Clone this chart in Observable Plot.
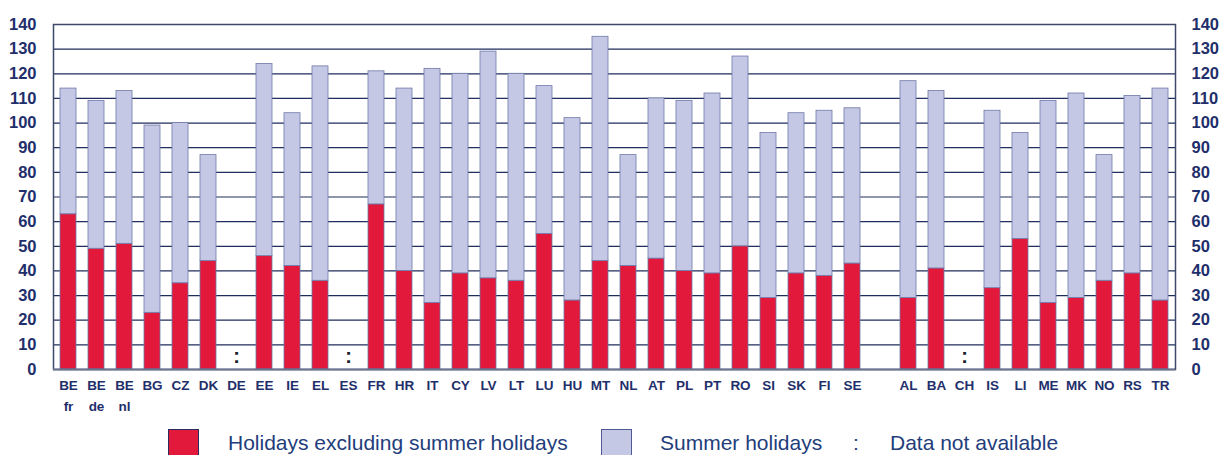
<!DOCTYPE html>
<html>
<head>
<meta charset="utf-8">
<script src="https://cdn.jsdelivr.net/npm/d3@7"></script>
<script src="https://cdn.jsdelivr.net/npm/@observablehq/plot@0.6"></script>
<style>
  html, body { margin: 0; padding: 0; background: #fff; }
  body { position: relative; width: 1219px; height: 455px; overflow: hidden; font-family: "Liberation Sans", Arial, sans-serif; }
  #chart { position: absolute; left: 0; top: 0; }
  .mark { position: absolute; left: 13px; top: 0; width: 3px; height: 8px; background: #c0102e; }
  .sw { position: absolute; top: 429px; width: 31px; height: 26px; box-sizing: border-box; }
  .lt { position: absolute; top: 432px; font-size: 21px; line-height: 21px; color: #233d7b; white-space: nowrap; }
</style>
</head>
<body>
<div class="mark"></div>
<div id="chart"></div>
<div class="sw" style="left:168px;background:#e3193b;border:1px solid #2b2d5e;border-bottom:none;"></div>
<div class="lt" style="left:228px;">Holidays excluding summer holidays</div>
<div class="sw" style="left:601px;background:#c5c8e5;border:1px solid #4f5a94;border-bottom:none;"></div>
<div class="lt" style="left:660px;">Summer holidays</div>
<div class="lt" style="left:853px;">:</div>
<div class="lt" style="left:890px;">Data not available</div>
<script>
const GAP = " ";
const categories = ["BE\nfr","BE\nde","BE\nnl","BG","CZ","DK","DE","EE","IE","EL","ES","FR","HR","IT","CY","LV","LT","LU","HU","MT","NL","AT","PL","PT","RO","SI","SK","FI","SE",GAP,"AL","BA","CH","IS","LI","ME","MK","NO","RS","TR"];
const holidaysExclSummer = [63,49,51,23,35,44,null,46,42,36,null,67,40,27,39,37,36,55,28,44,42,45,40,39,50,29,39,38,43,null,29,41,null,33,53,27,29,36,39,28];
const summerHolidays     = [51,60,62,76,65,43,null,78,62,87,null,54,74,95,81,92,84,60,74,91,45,65,69,73,77,67,65,67,63,null,88,72,null,72,43,82,83,51,72,86];
const notAvailable = ["DE","ES","CH"];
const yTicks = [0,10,20,30,40,50,60,70,80,90,100,110,120,130,140];
const seriesNames = ["Holidays excluding summer holidays","Summer holidays"];

const rows = [];
categories.forEach((c, i) => {
  if (holidaysExclSummer[i] != null) rows.push({cat: c, series: seriesNames[0], value: holidaysExclSummer[i]});
  if (summerHolidays[i] != null) rows.push({cat: c, series: seriesNames[1], value: summerHolidays[i]});
});

const navy = "#1f2f6b";
const font = "'Liberation Sans', Arial, sans-serif";

const chart = Plot.plot({
  width: 1219,
  height: 420,
  marginTop: 24,
  marginBottom: 51,
  marginLeft: 53,
  marginRight: 44,
  style: {fontFamily: font, background: "white"},
  x: {domain: categories, paddingInner: 0.43, paddingOuter: 0.215, label: null},
  y: {domain: [0, 140], label: null},
  color: {domain: seriesNames, range: ["#e3193b", "#c5c8e5"]},
  marks: [
    Plot.gridY(yTicks, {stroke: "#1e2d5c", strokeOpacity: 1, strokeWidth: 1.2}),
    Plot.barY(rows, {x: "cat", y: "value", fill: "series", stroke: "#6f79a8", strokeWidth: 0.8, inset: 0}),
    Plot.text(notAvailable, {x: d => d, frameAnchor: "bottom", dy: -13, text: () => ":", fontSize: 20, fontWeight: 900, fill: "#1a1a2a", lineAnchor: "middle"}),
    Plot.frame({stroke: "#3e4868", strokeWidth: 1.5}),
    Plot.ruleY([0], {stroke: "#6c7590", strokeWidth: 2}),
    Plot.axisY(yTicks, {anchor: "left", tickSize: 0, tickPadding: 17, fontSize: 16.5, fontWeight: "bold", fill: navy}),
    Plot.axisY(yTicks, {anchor: "right", tickSize: 0, tickPadding: 16, fontSize: 16.5, fontWeight: "bold", fill: navy}),
    Plot.axisX({tickSize: 0, tickPadding: 5, fontSize: 13.5, fontWeight: "bold", fill: navy, lineHeight: 1.6, tickFormat: d => d === GAP ? "" : d})
  ]
});
document.getElementById("chart").appendChild(chart);
</script>
</body>
</html>
